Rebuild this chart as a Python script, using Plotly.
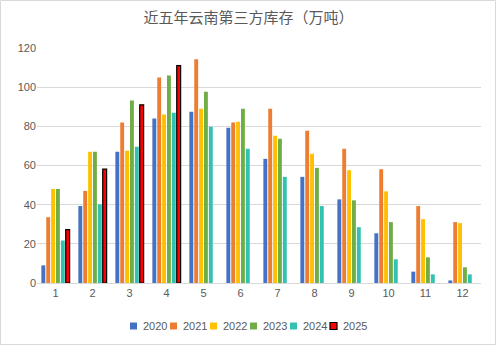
import plotly.graph_objects as go

months = ["1", "2", "3", "4", "5", "6", "7", "8", "9", "10", "11", "12"]
years = ["2020", "2021", "2022", "2023", "2024", "2025"]

v2020 = [9, 39.3, 67, 84, 87.5, 79.3, 63.4, 54.2, 42.7, 25.4, 5.8, 1.3]
v2021 = [33.6, 47, 82, 105, 114.2, 82, 89, 77.8, 68.5, 58.1, 39.3, 31.1]
v2022 = [48, 67, 67.5, 86, 89, 82.4, 75.2, 66, 57.6, 46.8, 32.6, 30.6]
v2023 = [48, 67, 93.2, 106, 97.7, 89, 73.6, 58.8, 42.2, 31.1, 13.1, 8]
v2024 = [21.7, 40.2, 69.6, 87, 79.8, 68.5, 54.2, 39.3, 28.5, 12.1, 4.4, 4.4]
v2025 = [27.3, 58.1, 91, 111]

series = [v2020, v2021, v2022, v2023, v2024, v2025]
colors = ["#4472C4", "#ED7D31", "#FFC000", "#70AD47", "#33C2B1", "#FF0000"]
y_ticks = [0, 20, 40, 60, 80, 100, 120]

W, H = 497, 347
ml, mr, mt, mb = 37, 16, 48, 64
pw, ph = W - ml - mr, H - mt - mb


def px_x(px):
    return (px - ml) / pw


def px_y(py):
    return (H - mb - py) / ph


fig = go.Figure()
for name, vals, col in zip(years, series, colors):
    line = dict(color="black", width=1.2) if name == "2025" else dict(width=0)
    fig.add_trace(go.Bar(
        x=months[:len(vals)], y=vals, name=name,
        marker=dict(color=col, line=line), showlegend=False,
    ))

# custom compact legend (Excel style)
leg_x0, leg_step, leg_y, box = 130, 40, 326, 7
for i, (name, col) in enumerate(zip(years, colors)):
    bx = leg_x0 + i * leg_step
    border = dict(color="black", width=1.2) if name == "2025" else dict(width=0)
    fig.add_shape(type="rect", xref="paper", yref="paper",
                  x0=px_x(bx), x1=px_x(bx + box),
                  y0=px_y(leg_y + box / 2), y1=px_y(leg_y - box / 2),
                  fillcolor=col, line=border)
    fig.add_annotation(text=name, xref="paper", yref="paper",
                       x=px_x(bx + box + 4), y=px_y(leg_y),
                       xanchor="left", yanchor="middle", showarrow=False,
                       font=dict(size=11, color="#595959"))

fig.update_layout(
    width=W, height=H,
    margin=dict(l=ml, r=mr, t=mt, b=mb, autoexpand=False),
    paper_bgcolor="white", plot_bgcolor="white",
    barmode="group", bargap=0.21, bargroupgap=0.2,
    font=dict(family="Liberation Sans, Arial, sans-serif", size=11, color="#595959"),
    title=dict(text="近五年云南第三方库存（万吨）", x=0.5, xanchor="center",
               y=1 - 18 / H, yanchor="middle",
               font=dict(family="Noto Sans CJK SC", size=15, color="#595959")),
    showlegend=False,
)
fig.update_xaxes(type="category", showgrid=False, showline=True, linecolor="#D9D9D9",
                 linewidth=1, ticks="", tickfont=dict(size=11, color="#595959"))
fig.update_yaxes(range=[0, 120], tickvals=y_ticks, showgrid=True, gridcolor="#D9D9D9",
                 gridwidth=1, zeroline=False, showline=False, ticks="",
                 tickfont=dict(size=11, color="#595959"))

fig.add_shape(type="rect", xref="paper", yref="paper",
              x0=px_x(0.5), x1=px_x(W - 1.5),
              y0=px_y(H - 2.5), y1=px_y(0.5),
              line=dict(color="#D9D9D9", width=1), fillcolor="rgba(0,0,0,0)", layer="below")

fig.write_html("out.html")
